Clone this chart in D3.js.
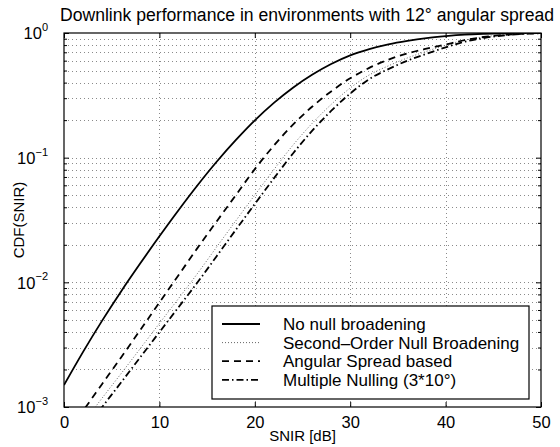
<!DOCTYPE html>
<html>
<head>
<meta charset="utf-8">
<script src="https://cdn.jsdelivr.net/npm/d3@7"></script>
<style>
  body { margin: 0; background: #fff; }
  text { font-family: 'Liberation Sans', Arial, Helvetica, sans-serif; fill: #000; }
</style>
</head>
<body>
<script>
// SNIR grid the curves were read at (dB)
const snirDb = [0, 2, 4, 6, 8, 10, 12, 14, 16, 18, 20, 22, 24, 26, 28, 30, 32, 34, 36, 38, 40, 42, 44, 46, 48, 50];

const noNullBroadening = [0.0015, 0.00277, 0.00493, 0.00849, 0.0142, 0.0234, 0.0379, 0.0601, 0.0927, 0.138, 0.199, 0.275, 0.364, 0.462, 0.564, 0.662, 0.743, 0.811, 0.865, 0.91, 0.944, 0.971, 0.986, 0.995, 0.9986, 0.9998];
const secondOrder = [0.000468, 0.000741, 0.00118, 0.00186, 0.00295, 0.00468, 0.00741, 0.0118, 0.0192, 0.0311, 0.0501, 0.0802, 0.126, 0.188, 0.267, 0.362, 0.461, 0.545, 0.631, 0.713, 0.798, 0.877, 0.931, 0.967, 0.989, 0.995];
const angularSpread = [0.000575, 0.000933, 0.00153, 0.00251, 0.00415, 0.00689, 0.0114, 0.0189, 0.0308, 0.0499, 0.0809, 0.125, 0.184, 0.256, 0.34, 0.433, 0.525, 0.611, 0.686, 0.748, 0.809, 0.875, 0.929, 0.964, 0.986, 0.998];
const multipleNulling = [0.000398, 0.000631, 0.001, 0.00158, 0.00251, 0.00398, 0.00631, 0.01, 0.0162, 0.0263, 0.0425, 0.0682, 0.108, 0.164, 0.237, 0.327, 0.427, 0.513, 0.6, 0.682, 0.767, 0.851, 0.912, 0.955, 0.982, 0.995];

const seriesNames = ['No null broadening', 'Second\u2013Order Null Broadening', 'Angular Spread based', 'Multiple Nulling (3*10\u00b0)'];
const xTicks = [0, 10, 20, 30, 40, 50];
const yTicks = [1e-3, 1e-2, 1e-1, 1];
const yExponents = ['\u22123', '\u22122', '\u22121', '0'];

const width = 560;
const height = 447;
const plot = { left: 64, right: 541, top: 33, bottom: 407 };

const styles = [
  { stroke: '#000', width: 1.8, dash: null },
  { stroke: '#666', width: 1, dash: '1,2' },
  { stroke: '#000', width: 1.8, dash: '7,5' },
  { stroke: '#000', width: 1.8, dash: '7,3,1.5,3' },
];

function main() {
  const svg = d3.select('body').append('svg').attr('width', width).attr('height', height);
  const [x, y] = createScales();

  createGrid(svg, x, y);
  createLines(svg, x, y);
  createAxes(svg, x, y);
  createLabels(svg);
  createLegend(svg);
}

function createScales() {
  const x = d3.scaleLinear().domain([0, 50]).range([plot.left, plot.right]);
  const y = d3.scaleLog().domain([1e-3, 1]).range([plot.bottom, plot.top]);
  return [x, y];
}

function minorTicks() {
  const out = [];
  [1e-3, 1e-2, 1e-1].forEach(p => {
    for (let k = 2; k <= 9; k++) out.push(p * k);
  });
  return out;
}

function createGrid(svg, x, y) {
  const g = svg.append('g').attr('class', 'grid');
  g.selectAll('line.h')
    .data([...minorTicks(), 1e-2, 1e-1])
    .enter()
    .append('line')
    .attr('x1', plot.left)
    .attr('x2', plot.right)
    .attr('y1', d => Math.round(y(d)) + 0.5)
    .attr('y2', d => Math.round(y(d)) + 0.5)
    .attr('stroke', '#8a8a8a')
    .attr('stroke-width', 1)
    .attr('stroke-dasharray', '1,3');

  g.selectAll('line.v')
    .data([10, 20, 30, 40])
    .enter()
    .append('line')
    .attr('x1', d => Math.round(x(d)) + 0.5)
    .attr('x2', d => Math.round(x(d)) + 0.5)
    .attr('y1', plot.top)
    .attr('y2', plot.bottom)
    .attr('stroke', '#8a8a8a')
    .attr('stroke-width', 1)
    .attr('stroke-dasharray', '1,3');
}

function createLines(svg, x, y) {
  svg.append('clipPath').attr('id', 'clip')
    .append('rect')
    .attr('x', plot.left).attr('y', plot.top)
    .attr('width', plot.right - plot.left).attr('height', plot.bottom - plot.top);

  const line = d3.line()
    .x((_, i) => x(snirDb[i]))
    .y(d => y(d))
    .curve(d3.curveCatmullRom);

  const all = [noNullBroadening, secondOrder, angularSpread, multipleNulling];
  svg.append('g')
    .attr('clip-path', 'url(#clip)')
    .selectAll('path')
    .data(all)
    .enter()
    .append('path')
    .attr('d', line)
    .attr('fill', 'none')
    .attr('stroke', (_, i) => styles[i].stroke)
    .attr('stroke-width', (_, i) => styles[i].width)
    .attr('stroke-dasharray', (_, i) => styles[i].dash);
}

function createAxes(svg, x, y) {
  const bottom = svg.append('g')
    .attr('transform', `translate(0, ${plot.bottom})`)
    .call(d3.axisBottom(x).tickValues(xTicks).tickSize(-5).tickPadding(9).tickFormat(d3.format('d')));
  svg.append('g')
    .attr('transform', `translate(0, ${plot.top})`)
    .call(d3.axisTop(x).tickValues(xTicks).tickSize(-5).tickFormat(''));

  const left = svg.append('g')
    .attr('transform', `translate(${plot.left}, 0)`)
    .call(d3.axisLeft(y).tickValues(yTicks).tickSize(-5).tickPadding(16).tickFormat(''));
  svg.append('g')
    .attr('transform', `translate(${plot.left}, 0)`)
    .call(d3.axisLeft(y).tickValues(minorTicks()).tickSize(-3).tickFormat(''));
  svg.append('g')
    .attr('transform', `translate(${plot.right}, 0)`)
    .call(d3.axisRight(y).tickValues(yTicks).tickSize(-5).tickFormat(''));
  svg.append('g')
    .attr('transform', `translate(${plot.right}, 0)`)
    .call(d3.axisRight(y).tickValues(minorTicks()).tickSize(-3).tickFormat(''));

  svg.selectAll('.domain').remove();
  svg.selectAll('.tick line').attr('stroke', '#000');
  bottom.selectAll('text').attr('font-size', 16.5).attr('fill', '#000');

  left.selectAll('.tick text').each(function (d, i) {
    const t = d3.select(this).attr('font-size', 16.5).attr('fill', '#000').attr('dy', '0.35em');
    t.append('tspan').text('10');
    t.append('tspan').attr('font-size', 11).attr('dy', '-0.75em').text(yExponents[i]);
  });

  svg.append('rect')
    .attr('x', plot.left).attr('y', plot.top)
    .attr('width', plot.right - plot.left).attr('height', plot.bottom - plot.top)
    .attr('fill', 'none')
    .attr('stroke', '#000')
    .attr('stroke-width', 1.2);
}

function createLabels(svg) {
  svg.append('text')
    .attr('x', 307)
    .attr('y', 21)
    .attr('text-anchor', 'middle')
    .attr('font-size', 17.6)
    .text('Downlink performance in environments with 12\u00b0 angular spread');

  svg.append('text')
    .attr('x', (plot.left + plot.right) / 2)
    .attr('y', 441)
    .attr('text-anchor', 'middle')
    .attr('font-size', 15)
    .text('SNIR [dB]');

  svg.append('text')
    .attr('transform', `translate(24, ${(plot.top + plot.bottom) / 2}) rotate(-90)`)
    .attr('text-anchor', 'middle')
    .attr('font-size', 15)
    .text('CDF(SNIR)');
}

function createLegend(svg) {
  const box = { x: 212, y: 306, w: 317, h: 93 };
  const legend = svg.append('g').attr('id', 'legend');

  legend.append('rect')
    .attr('x', box.x).attr('y', box.y)
    .attr('width', box.w).attr('height', box.h)
    .attr('fill', '#fff')
    .attr('stroke', '#000')
    .attr('stroke-width', 1.2);

  const rows = legend.selectAll('g.row')
    .data(seriesNames)
    .enter()
    .append('g')
    .attr('transform', (_, i) => `translate(0, ${box.y + 18 + i * 18.6})`);

  rows.append('line')
    .attr('x1', 222).attr('x2', 260)
    .attr('y1', 0).attr('y2', 0)
    .attr('stroke', (_, i) => styles[i].stroke)
    .attr('stroke-width', (_, i) => styles[i].width)
    .attr('stroke-dasharray', (_, i) => styles[i].dash);

  rows.append('text')
    .attr('x', 283)
    .attr('y', 6)
    .attr('font-size', 17)
    .text(d => d);
}

main();
</script>
</body>
</html>
